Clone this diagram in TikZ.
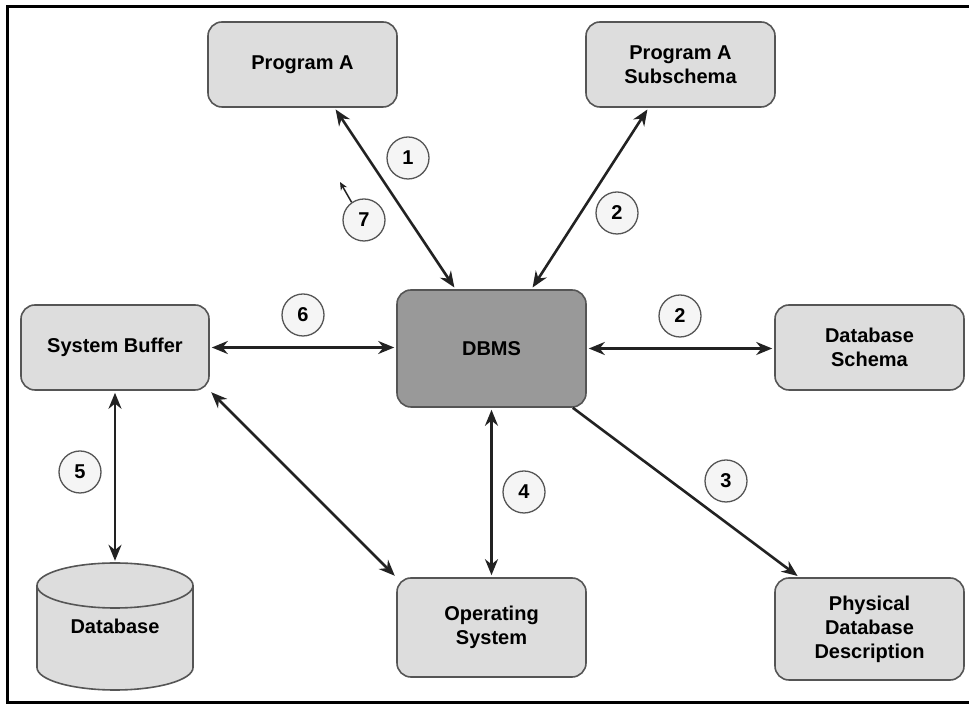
\documentclass[tikz,border=0pt]{standalone}
\usepackage{fontspec}
\setmainfont{Liberation Sans}
\usetikzlibrary{arrows.meta}
\definecolor{boxfill}{HTML}{DDDDDD}
\definecolor{dbmsfill}{HTML}{999999}
\definecolor{boxedge}{HTML}{555555}
\definecolor{numfill}{HTML}{F5F5F5}
\definecolor{linkcol}{HTML}{222222}
\tikzset{
  box/.style={draw=boxedge, fill=boxfill, line width=1.6pt, rounded corners=14pt,
    inner sep=0pt, minimum width=189pt, minimum height=85pt, align=center,
    font=\fontsize{20}{24}\selectfont\bfseries},
  num/.style={circle, draw=boxedge, fill=numfill, line width=1.3pt, minimum size=42pt,
    inner sep=0pt, font=\fontsize{20}{20}\selectfont\bfseries},
  link/.style={draw=linkcol, line width=2.6pt, shorten <=2pt, shorten >=2pt,
    {Stealth[length=16pt,width=13pt]}-{Stealth[length=16pt,width=13pt]}},
  onelink/.style={draw=linkcol, line width=2.6pt, shorten >=2pt,
    -{Stealth[length=16pt,width=13pt]}}
}
\begin{document}
\begin{tikzpicture}[x=1pt,y=1pt]%DBMS overview
\useasboundingbox (0,0) rectangle (969,706);
\draw[line width=3pt] (969,699) -- (7,699) -- (7,3) -- (969,3);
% boxes
\node[box] (pa) at (302.5,641.5) {Program A};
\node[box] (sub) at (680.5,641.5) {Program A\\Subschema};
\node[box, minimum width=188pt] (sb) at (115,358.5) {System Buffer};
\node[box, fill=dbmsfill, minimum height=117pt] (dbms) at (491.5,357.5) {DBMS};
\node[box] (ds) at (869.5,358.5) {Database\\Schema};
\node[box, minimum height=99pt] (os) at (491.5,78.5) {Operating\\System};
\node[box, minimum height=102pt] (phys) at (869.5,77) {Physical\\Database\\Description};
% database cylinder
\draw[boxedge, fill=boxfill, line width=1.6pt] (37,120.5) -- (37,38.5)
  arc[start angle=180, end angle=360, x radius=78pt, y radius=22.5pt] -- (193,120.5)
  arc[start angle=0, end angle=180, x radius=78pt, y radius=22.5pt] -- cycle;
\draw[boxedge, line width=1.6pt] (37,120.5)
  arc[start angle=180, end angle=360, x radius=78pt, y radius=22.5pt];
\node[minimum width=156pt, minimum height=127pt, inner sep=0pt,
  font=\fontsize{20}{24}\selectfont\bfseries] (db) at (115,79.5) {Database};
% numbers
\foreach \n/\x/\y/\t in {c1/408/548/1, c2/617/493/2, c7/364/486/7, c6/303/391/6,
  c2b/680/390/2, c5/80/234/5, c4/524/214/4, c3/726/225/3}
  \node[num] (\n) at (\x,\y) {\t};
% connectors
\draw[link] ([xshift=32pt]pa.south) -- ([xshift=-36pt]dbms.north);
\draw[link] ([xshift=-32pt]sub.south) -- ([xshift=40pt]dbms.north);
\draw[link] (sb.east) -- (sb.east -| dbms.west);
\draw[link] (dbms.east) -- (dbms.east -| ds.west);
\draw[link] (sb.south) -- (db.north);
\draw[link] (sb.south east) -- (os.north west);
\draw[link] (dbms.south) -- (os.north);
\draw[onelink] ([xshift=-14pt]dbms.south east) -- ([xshift=25pt]phys.north west);
\coordinate (c7tip) at (340,524);
\draw[draw=linkcol, line width=1.5pt, -{Stealth[length=8pt,width=7pt]}] (c7.125) -- (c7tip);
\end{tikzpicture}
\end{document}
